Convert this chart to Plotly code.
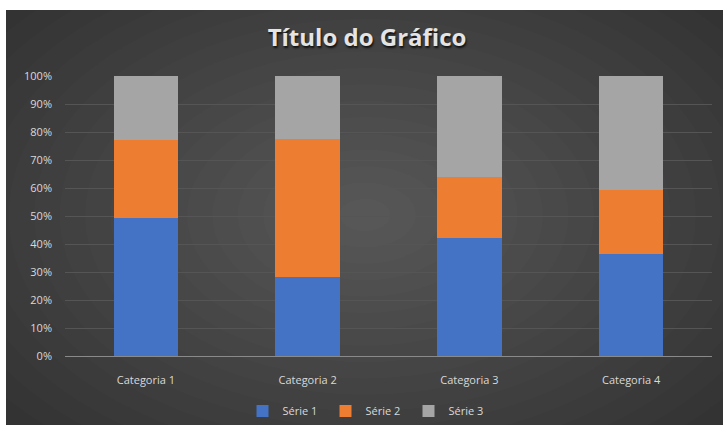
import plotly.graph_objects as go

categories = ["Categoria 1", "Categoria 2", "Categoria 3", "Categoria 4"]
serie1 = [4.3, 2.5, 3.5, 4.5]
serie2 = [2.4, 4.4, 1.8, 2.8]
serie3 = [2.0, 2.0, 3.0, 5.0]
series_names = ["Série 1", "Série 2", "Série 3"]
series_colors = ["#4472C4", "#ED7D31", "#A5A5A5"]
y_ticks = list(range(0, 101, 10))
y_tick_labels = [f"{v}%" for v in y_ticks]

W, H = 723, 425
ML, MR, MT, MB = 65, 11, 76, 69
pw, ph = W - ML - MR, H - MT - MB


def px_x(x):
    return (x - ML) / pw


def px_y(y):
    return (H - MB - y) / ph


fig = go.Figure()
for name, vals, col in zip(series_names, [serie1, serie2, serie3], series_colors):
    fig.add_trace(go.Bar(
        x=categories, y=vals, name=name,
        marker=dict(color=col, line=dict(width=0)),
    ))

shapes = []
# dark chart background with a soft radial highlight in the middle
shapes.append(dict(type="rect", xref="paper", yref="paper",
                   x0=px_x(6), x1=px_x(W), y0=px_y(10), y1=px_y(H),
                   fillcolor="#2b2b2b", line=dict(width=0), layer="below"))
N = 22
cx, cy = 365, 215
for i in range(N):
    f = 1 - i / N
    rx, ry = 560 * f, 360 * f
    shapes.append(dict(type="circle", xref="paper", yref="paper",
                       x0=px_x(cx - rx), x1=px_x(cx + rx),
                       y0=px_y(cy + ry), y1=px_y(cy - ry),
                       fillcolor="rgba(255,255,255,0.012)", line=dict(width=0),
                       layer="below"))
# white page margin around the chart
shapes.append(dict(type="rect", xref="paper", yref="paper",
                   x0=px_x(-20), x1=px_x(W + 20), y0=px_y(10), y1=px_y(-20),
                   fillcolor="white", line=dict(width=0), layer="below"))
shapes.append(dict(type="rect", xref="paper", yref="paper",
                   x0=px_x(-20), x1=px_x(6), y0=px_y(H + 20), y1=px_y(-20),
                   fillcolor="white", line=dict(width=0), layer="below"))

fig.update_layout(
    width=W, height=H,
    margin=dict(l=ML, r=MR, t=MT, b=MB, autoexpand=False),
    paper_bgcolor="white",
    plot_bgcolor="rgba(0,0,0,0)",
    barmode="stack", barnorm="percent",
    bargap=0.6,
    shapes=shapes,
    title=dict(text="<b>Título do Gráfico</b>", x=367 / W, xanchor="center",
               y=1 - 38 / H, yanchor="middle",
               font=dict(family="Open Sans, sans-serif", size=24, color="#e4e4e4",
                         shadow="1px 2px 2px #111111")),
    font=dict(family="Open Sans, sans-serif", size=11, color="#d9d9d9"),
    legend=dict(orientation="h", x=367 / W, xanchor="center", xref="container",
                y=(H - 411) / H, yanchor="middle", yref="container",
                bgcolor="rgba(0,0,0,0)",
                font=dict(size=11, color="#d9d9d9"),
                itemwidth=30, entrywidth=38, traceorder="normal"),
    xaxis=dict(showgrid=False, showline=False, ticks="",
               ticklabelstandoff=16,
               tickfont=dict(size=11, color="#d9d9d9")),
    yaxis=dict(range=[0, 100], tickvals=y_ticks, ticktext=y_tick_labels,
               showgrid=True, gridcolor="#555555", gridwidth=1,
               zeroline=True, zerolinecolor="#8a8a8a", zerolinewidth=1,
               tickfont=dict(size=11, color="#d9d9d9"),
               ticks="", ticklabelstandoff=12),
)

fig.write_html("out.html")
